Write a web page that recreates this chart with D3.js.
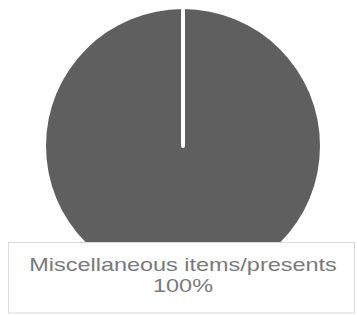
<!DOCTYPE html>
<html>
<head>
<meta charset="utf-8">
<script src="https://cdn.jsdelivr.net/npm/d3@7"></script>
<style>
  body { margin: 0; background: #fff; }
  svg { display: block; }
</style>
</head>
<body>
<div id="chart"></div>
<script>
// data
var categories = ["Miscellaneous items/presents"];
var values = [100];
var colors = ["#5f5f5f"];

var width = 357, height = 315;
var cx = 183, cy = 146, radius = 137;

var svg = d3.select("#chart")
  .append("svg")
    .attr("width", width)
    .attr("height", height);

var g = svg.append("g")
  .attr("transform", "translate(" + cx + "," + cy + ")");

var pie = d3.pie().sort(null).value(function(d) { return d; });
var arc = d3.arc().innerRadius(0).outerRadius(radius);
var arcs = pie(values);

g.selectAll("path.slice")
  .data(arcs)
  .enter().append("path")
    .attr("class", "slice")
    .attr("d", arc)
    .attr("fill", function(d, i) { return colors[i]; });

// slice borders (radial edge at start angle)
g.selectAll("line.edge")
  .data(arcs)
  .enter().append("line")
    .attr("class", "edge")
    .attr("x1", 0).attr("y1", 0)
    .attr("x2", function(d) { return radius * Math.sin(d.startAngle); })
    .attr("y2", function(d) { return -radius * Math.cos(d.startAngle) - 2; })
    .attr("stroke", "#fff")
    .attr("stroke-width", 4)
    .attr("stroke-linecap", "round");

// data label box
var total = d3.sum(values);
var label = svg.append("g");
label.append("rect")
  .attr("x", 8.5).attr("y", 242.5)
  .attr("width", 346).attr("height", 70.5)
  .attr("fill", "#fff")
  .attr("stroke", "#d9d9d9")
  .attr("stroke-width", 1);

// text in the reference is wider than tall, so stretch it horizontally
var txt = label.append("text")
  .attr("transform", "translate(183,0) scale(1.34,1)")
  .attr("text-anchor", "middle")
  .style("font-family", "Liberation Sans, Arial, sans-serif")
  .style("font-size", "17.5px")
  .style("fill", "#7a7a7a");
txt.append("tspan").attr("x", 0).attr("y", 271).text(categories[0]);
txt.append("tspan").attr("x", 0).attr("y", 291.7)
  .text(d3.format(".0%")(values[0] / total));
</script>
</body>
</html>
